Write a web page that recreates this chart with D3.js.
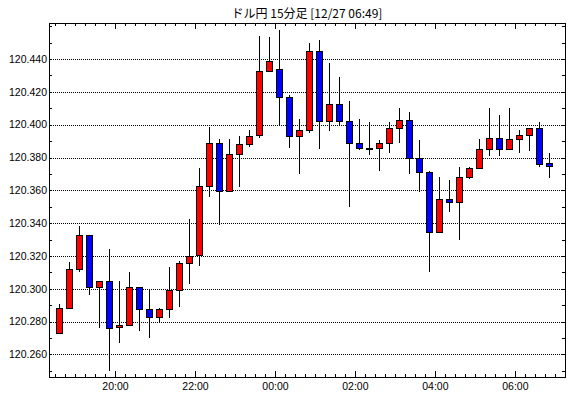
<!DOCTYPE html>
<html>
<head>
<meta charset="utf-8">
<script src="https://cdn.jsdelivr.net/npm/d3@7"></script>
<style>
  body { margin: 0; background: #fff; }
  text { font-family: "Liberation Sans", Arial, sans-serif; }
</style>
</head>
<body>
<svg width="570" height="398"></svg>
<script>
(function() {
    'use strict';
    var svg = d3.select("svg");
    var chartTitle = "ドル円 15分足 [12/27 06:49]";

    // 15 minute bars, 12/26 18:30 .. 12/27 06:45
    var times = ["18:30","18:45","19:00","19:15","19:30","19:45","20:00","20:15","20:30","20:45",
                 "21:00","21:15","21:30","21:45","22:00","22:15","22:30","22:45","23:00","23:15",
                 "23:30","23:45","00:00","00:15","00:30","00:45","01:00","01:15","01:30","01:45",
                 "02:00","02:15","02:30","02:45","03:00","03:15","03:30","03:45","04:00","04:15",
                 "04:30","04:45","05:00","05:15","05:30","05:45","06:00","06:15","06:30","06:45"];
    var opens  = [120.273,120.288,120.312,120.333,120.301,120.305,120.2765,120.278,120.301,120.2875,
                  120.283,120.2875,120.299,120.3155,120.3205,120.3625,120.389,120.3595,120.382,120.388,
                  120.394,120.433,120.434,120.417,120.393,120.397,120.445,120.402,120.4125,120.402,
                  120.389,120.386,120.386,120.389,120.398,120.403,120.380,120.371,120.3345,120.355,
                  120.353,120.368,120.3735,120.385,120.392,120.385,120.391,120.394,120.398,120.3765];
    var highs  = [120.291,120.316,120.338,120.333,120.305,120.324,120.305,120.310,120.301,120.299,
                  120.288,120.313,120.317,120.3425,120.3735,120.3985,120.391,120.391,120.393,120.397,
                  120.454,120.4535,120.458,120.418,120.4035,120.450,120.4515,120.4375,120.429,120.4145,
                  120.4035,120.4015,120.3905,120.4015,120.410,120.408,120.3905,120.372,120.368,120.366,
                  120.3745,120.374,120.391,120.410,120.406,120.410,120.397,120.398,120.4015,120.383];
    var lows   = [120.273,120.288,120.310,120.296,120.276,120.250,120.267,120.277,120.274,120.270,
                  120.2795,120.282,120.289,120.303,120.314,120.356,120.339,120.3595,120.362,120.3865,
                  120.392,120.432,120.400,120.386,120.370,120.395,120.385,120.396,120.400,120.350,
                  120.3845,120.3815,120.372,120.383,120.389,120.370,120.359,120.310,120.3345,120.347,
                  120.330,120.367,120.3735,120.381,120.381,120.385,120.383,120.384,120.374,120.3675];
    var closes = [120.288,120.312,120.333,120.301,120.305,120.276,120.278,120.301,120.2875,120.283,
                  120.2875,120.299,120.3155,120.320,120.3625,120.389,120.3595,120.382,120.388,120.393,
                  120.433,120.439,120.417,120.393,120.397,120.445,120.402,120.4125,120.402,120.389,
                  120.386,120.386,120.389,120.398,120.403,120.380,120.371,120.3345,120.355,120.353,
                  120.368,120.3735,120.385,120.392,120.385,120.391,120.394,120.398,120.376,120.375];
    var yGridValues = [120.26, 120.28, 120.30, 120.32, 120.34, 120.36, 120.38, 120.40, 120.42, 120.44];

    var left = 49, right = 565, top = 23, bottom = 377;

    function toDate(s, i) {
        var hm = s.split(":");
        // bars before the first midnight fall on 12/26
        var day = (i < 22) ? 26 : 27;
        return new Date(2015, 11, day, +hm[0], +hm[1]);
    }
    var bars = times.map(function(t, i) {
        return { t: toDate(t, i), o: opens[i], h: highs[i], l: lows[i], c: closes[i] };
    });

    var x = d3.scaleTime()
        .domain([new Date(2015, 11, 26, 18, 21), new Date(2015, 11, 27, 7, 16)])
        .range([left, right + 0.5]);
    var y = d3.scaleLinear()
        .domain([120.2462, 120.462])
        .range([bottom, top]);

    function px(v) { return Math.round(v) + 0.5; }

    // title
    svg.append("text")
        .attr("x", (left + right) / 2)
        .attr("y", 18)
        .attr("text-anchor", "middle")
        .style("font-family", "'Noto Sans CJK JP', sans-serif")
        .style("font-size", "12px")
        .attr("fill", "#000")
        .text(chartTitle);

    // grid
    svg.append("g")
        .selectAll("line")
        .data(yGridValues)
        .enter().append("line")
        .attr("x1", left).attr("x2", right)
        .attr("y1", function(d) { return px(y(d)); })
        .attr("y2", function(d) { return px(y(d)); })
        .attr("stroke", "#000")
        .attr("stroke-dasharray", "1,1")
        .attr("shape-rendering", "crispEdges");

    // y tick marks both sides, every 0.01
    var yMinor = d3.range(120.25, 120.4601, 0.01);
    var gy = svg.append("g").attr("shape-rendering", "crispEdges");
    gy.selectAll("line.l").data(yMinor).enter().append("line")
        .attr("class", "l")
        .attr("x1", left).attr("x2", left + 3)
        .attr("y1", function(d) { return px(y(d)); })
        .attr("y2", function(d) { return px(y(d)); })
        .attr("stroke", "#000");
    gy.selectAll("line.r").data(yMinor).enter().append("line")
        .attr("class", "r")
        .attr("x1", right - 3).attr("x2", right)
        .attr("y1", function(d) { return px(y(d)); })
        .attr("y2", function(d) { return px(y(d)); })
        .attr("stroke", "#000");

    gy.selectAll("text").data(yGridValues).enter().append("text")
        .attr("x", left - 2)
        .attr("y", function(d) { return y(d); })
        .attr("dy", "0.36em")
        .attr("text-anchor", "end")
        .style("font-size", "10.5px")
        .attr("fill", "#000")
        .text(function(d) { return d3.format(".3f")(d); });

    // x tick marks, every 15 minutes, top and bottom
    var minorTicks = x.ticks(d3.timeMinute.every(15));
    var majorTicks = x.ticks(d3.timeHour.every(2));
    var gx = svg.append("g").attr("shape-rendering", "crispEdges");
    gx.call(d3.axisBottom(x).tickValues(minorTicks).tickSize(-3).tickFormat(""))
        .attr("transform", "translate(0," + bottom + ")")
        .select(".domain").remove();
    var gx2 = svg.append("g").attr("shape-rendering", "crispEdges")
        .attr("transform", "translate(0," + top + ")");
    gx2.call(d3.axisTop(x).tickValues(minorTicks).tickSize(-3).tickFormat(""))
        .select(".domain").remove();
    var gxm = svg.append("g").attr("shape-rendering", "crispEdges")
        .attr("transform", "translate(0," + bottom + ")");
    gxm.call(d3.axisBottom(x).tickValues(majorTicks).tickSize(-6).tickPadding(6)
            .tickFormat(d3.timeFormat("%H:%M")))
        .select(".domain").remove();
    gxm.selectAll("text")
        .style("font-family", "'Liberation Sans', Arial, sans-serif")
        .style("font-size", "10.5px")
        .attr("fill", "#000");
    var gxm2 = svg.append("g").attr("shape-rendering", "crispEdges")
        .attr("transform", "translate(0," + top + ")");
    gxm2.call(d3.axisTop(x).tickValues(majorTicks).tickSize(-6).tickFormat(""))
        .select(".domain").remove();

    // frame
    svg.append("rect")
        .attr("x", left + 0.5).attr("y", top + 0.5)
        .attr("width", right - left).attr("height", bottom - top)
        .attr("fill", "none")
        .attr("stroke", "#000")
        .attr("shape-rendering", "crispEdges");

    // candles
    var half = 7.5 * 60 * 1000;
    var candle = svg.append("g").selectAll("g")
        .data(bars)
        .enter().append("g");

    candle.append("line")
        .attr("x1", function(d) { return px(x(new Date(+d.t + half)) - 0.5); })
        .attr("x2", function(d) { return px(x(new Date(+d.t + half)) - 0.5); })
        .attr("y1", function(d) { return y(d.h); })
        .attr("y2", function(d) { return y(d.l); })
        .attr("stroke", "#000")
        .attr("shape-rendering", "crispEdges");

    candle.append("rect")
        .attr("x", function(d) { return px(x(new Date(+d.t + half)) - 0.5) - 3; })
        .attr("y", function(d) { return Math.round(y(Math.max(d.o, d.c))) + 0.5; })
        .attr("width", 6)
        .attr("height", function(d) {
            return Math.max(1, Math.round(y(Math.min(d.o, d.c))) - Math.round(y(Math.max(d.o, d.c))));
        })
        .attr("fill", function(d) { return d.c >= d.o ? "#ff0000" : "#0000ff"; })
        .attr("stroke", "#000")
        .attr("stroke-width", 1)
        .attr("shape-rendering", "crispEdges");
}());
</script>
</body>
</html>
